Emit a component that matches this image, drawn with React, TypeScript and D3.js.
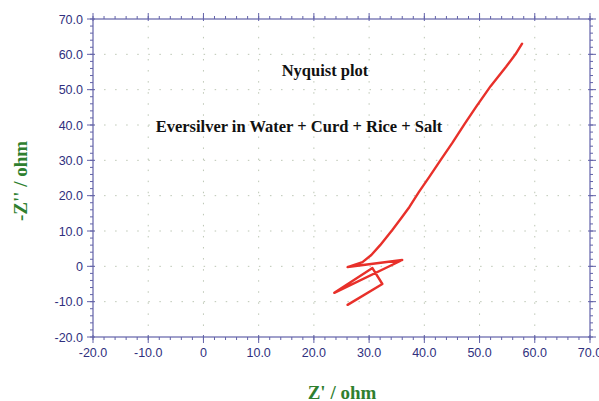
import React from "react";
import * as d3 from "d3";

// Nyquist data (Z' , -Z'')
const zReal = [26.1, 32.4, 30.6, 23.7, 36.0, 26.1, 28.8, 30.4, 32.0, 34.2, 35.8, 37.3, 39.0, 40.9, 43.0, 45.1, 47.3, 49.4, 52.0, 54.8, 56.5, 57.7];
const zImag = [-10.9, -5.0, -0.5, -7.5, 1.8, -0.2, 1.2, 3.2, 6.0, 10.3, 13.6, 16.8, 21.0, 25.3, 30.2, 35.0, 40.3, 45.2, 51.0, 56.5, 60.0, 63.0];

const xTicks = [-20, -10, 0, 10, 20, 30, 40, 50, 60, 70];
const yTicks = [-20, -10, 0, 10, 20, 30, 40, 50, 60, 70];
const title = "Nyquist plot";
const subtitle = "Eversilver in Water + Curd + Rice + Salt";
const xLabel = "Z' / ohm";
const yLabel = "-Z'' / ohm";

const W = 599, H = 401;
const m = { left: 93, right: 9, top: 19, bottom: 64 };
const axisCol = "#6262a8";
const labelCol = "#30307e";
const green = "#2f7f2f";

const fmt = (v: number) => (v === 0 ? "0" : v.toFixed(1));

export default function App() {
  const x = d3.scaleLinear().domain([-20, 70]).range([m.left, W - m.right]);
  const y = d3.scaleLinear().domain([-20, 70]).range([H - m.bottom, m.top]);
  const x0 = x(-20), x1 = x(70), y0 = y(-20), y1 = y(70);
  const minor = d3.range(-20, 70.01, 2);

  const line = d3.line<number>()
    .x((d, i) => x(zReal[i]))
    .y((d) => y(d));

  return (
    <svg width={W} height={H} style={{ position: "absolute", left: 0, top: 0, background: "#fff" }}>
      {/* dotted grid */}
      <g stroke="#bcc6b4" strokeWidth={1} strokeDasharray="1.5 9.56">
        {xTicks.slice(1, -1).map((t) => (
          <line key={"gx" + t} x1={x(t)} x2={x(t)} y1={y0} y2={y1} />
        ))}
        {yTicks.slice(1, -1).map((t) => (
          <line key={"gy" + t} x1={x0} x2={x1} y1={y(t)} y2={y(t)} />
        ))}
      </g>

      {/* frame */}
      <rect x={x0} y={y1} width={x1 - x0} height={y0 - y1} fill="none" stroke={axisCol} strokeWidth={1.2} />

      {/* ticks */}
      <g stroke={axisCol} strokeWidth={1}>
        {minor.map((t) => (
          <g key={"m" + t}>
            <line x1={x(t)} x2={x(t)} y1={y0} y2={y0 + 3} />
            <line x1={x(t)} x2={x(t)} y1={y1} y2={y1 - 3} />
            <line x1={x0} x2={x0 - 3} y1={y(t)} y2={y(t)} />
            <line x1={x1} x2={x1 + 3} y1={y(t)} y2={y(t)} />
          </g>
        ))}
        {xTicks.map((t) => (
          <g key={"M" + t}>
            <line x1={x(t)} x2={x(t)} y1={y0 - 2} y2={y0 + 6} />
            <line x1={x(t)} x2={x(t)} y1={y1 + 2} y2={y1 - 6} />
          </g>
        ))}
        {yTicks.map((t) => (
          <g key={"N" + t}>
            <line x1={x0 + 2} x2={x0 - 6} y1={y(t)} y2={y(t)} />
            <line x1={x1 - 2} x2={x1 + 6} y1={y(t)} y2={y(t)} />
          </g>
        ))}
      </g>

      {/* tick labels */}
      <g fontFamily="Liberation Sans, Arial, sans-serif" fontSize={12.5} fill={labelCol}>
        {xTicks.map((t) => (
          <text key={"xl" + t} x={x(t)} y={y0 + 20} textAnchor="middle">{fmt(t)}</text>
        ))}
        {yTicks.map((t) => (
          <text key={"yl" + t} x={x0 - 10} y={y(t) + 4.5} textAnchor="end">{fmt(t)}</text>
        ))}
      </g>

      {/* data */}
      <path d={line(zImag) || ""} fill="none" stroke="#e8302a" strokeWidth={2.4} strokeLinejoin="round" strokeLinecap="round" />

      {/* annotations */}
      <g fontFamily="Liberation Serif, Times New Roman, serif" fontWeight="bold" fill="#111">
        <text x={325} y={76} fontSize={16.5} textAnchor="middle">{title}</text>
        <text x={299} y={132} fontSize={16.5} textAnchor="middle">{subtitle}</text>
      </g>

      {/* axis titles */}
      <g fontFamily="Liberation Serif, Times New Roman, serif" fontWeight="bold" fill={green} fontSize={19}>
        <text x={342} y={399} textAnchor="middle">{xLabel}</text>
        <text transform={`translate(27,181) rotate(-90)`} textAnchor="middle">{yLabel}</text>
      </g>
    </svg>
  );
}
